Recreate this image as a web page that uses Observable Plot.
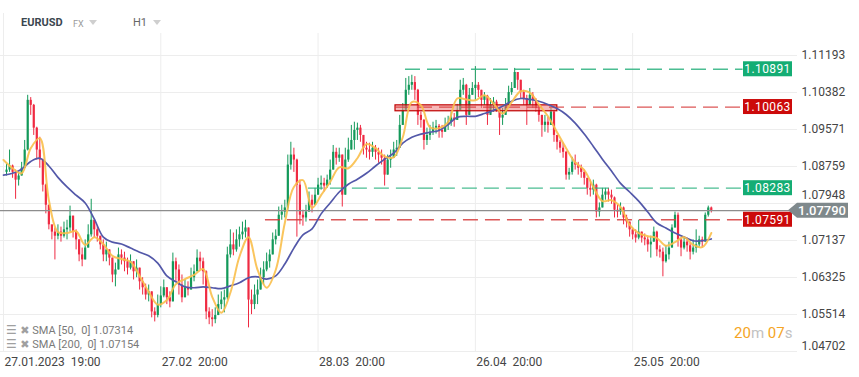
<!DOCTYPE html>
<html><head><meta charset="utf-8">
<script src="https://cdn.jsdelivr.net/npm/d3@7"></script>
<script src="https://cdn.jsdelivr.net/npm/@observablehq/plot@0.6"></script>
<style>
html,body{margin:0;padding:0;background:#fff;}
#wrap{position:relative;width:859px;height:377px;overflow:hidden;font-family:Roboto,"Open Sans",sans-serif;}
#wrap svg{position:absolute;left:0;top:0;}
.ov{position:absolute;white-space:pre;line-height:14px;}
.tri{position:absolute;width:0;height:0;border-left:4px solid transparent;border-right:4px solid transparent;border-top:5px solid #cfcfcf;}
</style></head><body>
<div id="wrap"></div>
<script>
// ---- data ----
const symbol = "EURUSD";
const market = "FX";
const interval = "H1";
const firstOpen = 1.0863;
const closes = [
1.0868,1.0877,1.0863,1.0846,1.0855,1.0872,1.0912,1.1021,1.1010,1.0960,
1.0912,1.0890,1.0835,1.0791,1.0748,1.0732,1.0723,1.0732,1.0723,1.0737,
1.0741,1.0767,1.0732,1.0715,1.0682,1.0671,1.0697,1.0726,1.0758,1.0737,
1.0723,1.0704,1.0682,1.0693,1.0675,1.0638,1.0649,1.0682,1.0675,1.0667,
1.0653,1.0667,1.0645,1.0653,1.0623,1.0610,1.0594,1.0601,1.0557,1.0549,
1.0573,1.0592,1.0610,1.0588,1.0579,1.0667,1.0649,1.0616,1.0588,1.0610,
1.0605,1.0632,1.0645,1.0675,1.0667,1.0645,1.0557,1.0544,1.0540,1.0549,
1.0573,1.0583,1.0588,1.0682,1.0704,1.0693,1.0715,1.0726,1.0732,1.0741,
1.0583,1.0573,1.0594,1.0605,1.0632,1.0649,1.0667,1.0682,1.0715,1.0723,
1.0769,1.0776,1.0785,1.0879,1.0901,1.0890,1.0835,1.0769,1.0763,1.0776,
1.0802,1.0791,1.0813,1.0835,1.0839,1.0833,1.0846,1.0868,1.0907,1.0894,
1.0901,1.0813,1.0890,1.0912,1.0933,1.0955,1.0960,1.0944,1.0916,1.0912,
1.0907,1.0916,1.0907,1.0901,1.0894,1.0857,1.0890,1.0894,1.0912,1.0916,
1.0966,1.0999,1.1043,1.1054,1.1060,1.1043,1.0988,1.0977,1.0933,1.0944,
1.0951,1.0960,1.0964,1.0955,1.0951,1.0966,1.0973,1.0982,1.0977,1.0999,
1.1043,1.1054,1.0988,1.1032,1.1047,1.1054,1.1043,1.1021,1.1030,1.0988,
1.1010,1.1017,1.1003,1.0982,1.0988,1.1010,1.1038,1.1047,1.1082,1.1065,
1.1038,1.1025,1.1010,1.1032,1.1021,1.1003,1.0988,1.0966,1.0973,1.0966,
1.0995,1.0944,1.0929,1.0916,1.0907,1.0857,1.0863,1.0885,1.0879,1.0872,
1.0863,1.0850,1.0828,1.0824,1.0835,1.0776,1.0785,1.0813,1.0820,1.0813,
1.0807,1.0780,1.0776,1.0785,1.0763,1.0754,1.0737,1.0726,1.0719,1.0732,
1.0719,1.0715,1.0704,1.0710,1.0732,1.0693,1.0688,1.0667,1.0682,1.0697,
1.0741,1.0769,1.0715,1.0697,1.0710,1.0702,1.0688,1.0697,1.0704,1.0715,
1.0710,1.0769,1.0785,1.0779];
const highs = [
1.0881,1.0912,1.0879,1.0868,1.0863,1.0885,1.0933,1.1032,1.1027,1.1012,
1.0962,1.0940,1.0892,1.0837,1.0791,1.0745,1.0741,1.0748,1.0743,1.0754,
1.0758,1.0789,1.0767,1.0737,1.0715,1.0697,1.0715,1.0748,1.0804,1.0758,
1.0745,1.0723,1.0715,1.0710,1.0693,1.0675,1.0664,1.0697,1.0693,1.0688,
1.0675,1.0682,1.0667,1.0671,1.0653,1.0632,1.0618,1.0616,1.0601,1.0566,
1.0594,1.0612,1.0627,1.0610,1.0601,1.0686,1.0675,1.0660,1.0638,1.0627,
1.0623,1.0653,1.0660,1.0693,1.0688,1.0675,1.0647,1.0566,1.0562,1.0566,
1.0594,1.0601,1.0605,1.0699,1.0737,1.0730,1.0737,1.0743,1.0754,1.0758,
1.0741,1.0605,1.0616,1.0627,1.0653,1.0667,1.0686,1.0693,1.0730,1.0737,
1.0787,1.0791,1.0802,1.0901,1.0929,1.0916,1.0892,1.0846,1.0780,1.0791,
1.0820,1.0813,1.0828,1.0850,1.0855,1.0850,1.0857,1.0890,1.0922,1.0916,
1.0916,1.0901,1.0916,1.0938,1.0966,1.0973,1.0971,1.0966,1.0944,1.0929,
1.0927,1.0929,1.0922,1.0916,1.0912,1.0901,1.0901,1.0912,1.0929,1.0933,
1.0988,1.1014,1.1069,1.1073,1.1076,1.1073,1.1045,1.0995,1.0979,1.0960,
1.0966,1.0973,1.0977,1.0968,1.0966,1.0982,1.0986,1.0995,1.0992,1.1012,
1.1065,1.1069,1.1056,1.1047,1.1060,1.1095,1.1060,1.1043,1.1038,1.1032,
1.1025,1.1027,1.1021,1.1003,1.1003,1.1025,1.1052,1.1060,1.1091,1.1082,
1.1065,1.1043,1.1032,1.1047,1.1038,1.1025,1.1010,1.0988,1.0988,1.0984,
1.1003,1.0997,1.0944,1.0933,1.0927,1.0909,1.0872,1.0896,1.0901,1.0885,
1.0879,1.0868,1.0850,1.0846,1.0846,1.0837,1.0796,1.0828,1.0828,1.0828,
1.0824,1.0809,1.0791,1.0796,1.0787,1.0769,1.0754,1.0741,1.0737,1.0758,
1.0732,1.0728,1.0721,1.0723,1.0743,1.0734,1.0702,1.0697,1.0702,1.0710,
1.0748,1.0776,1.0774,1.0719,1.0721,1.0719,1.0708,1.0715,1.0737,1.0723,
1.0721,1.0774,1.0789,1.0787];
const lows = [
1.0855,1.0863,1.0850,1.0804,1.0833,1.0855,1.0872,1.0910,1.0988,1.0944,
1.0890,1.0872,1.0820,1.0772,1.0737,1.0715,1.0671,1.0715,1.0710,1.0719,
1.0715,1.0732,1.0719,1.0693,1.0667,1.0656,1.0671,1.0697,1.0721,1.0719,
1.0710,1.0693,1.0667,1.0667,1.0658,1.0621,1.0612,1.0649,1.0660,1.0645,
1.0638,1.0649,1.0627,1.0632,1.0605,1.0594,1.0583,1.0579,1.0544,1.0535,
1.0544,1.0566,1.0588,1.0573,1.0566,1.0579,1.0623,1.0594,1.0577,1.0588,
1.0592,1.0605,1.0623,1.0645,1.0649,1.0616,1.0540,1.0529,1.0524,1.0531,
1.0549,1.0562,1.0555,1.0583,1.0675,1.0680,1.0688,1.0699,1.0715,1.0719,
1.0522,1.0551,1.0562,1.0573,1.0605,1.0616,1.0645,1.0653,1.0682,1.0704,
1.0723,1.0758,1.0763,1.0780,1.0868,1.0863,1.0721,1.0748,1.0745,1.0754,
1.0776,1.0774,1.0791,1.0813,1.0824,1.0820,1.0828,1.0835,1.0868,1.0879,
1.0885,1.0787,1.0813,1.0885,1.0912,1.0912,1.0933,1.0929,1.0901,1.0894,
1.0890,1.0896,1.0890,1.0883,1.0879,1.0833,1.0857,1.0872,1.0894,1.0898,
1.0916,1.0966,1.0999,1.1032,1.1043,1.1021,1.0966,1.0960,1.0912,1.0922,
1.0933,1.0944,1.0947,1.0938,1.0938,1.0951,1.0955,1.0964,1.0962,1.0977,
1.0999,1.1032,1.0966,1.0988,1.1032,1.1021,1.1027,1.1003,1.1010,1.0966,
1.0988,1.0995,1.0995,1.0944,1.0966,1.0988,1.1010,1.1032,1.1047,1.1043,
1.1025,1.1010,1.0966,1.1010,1.1003,1.0995,1.0973,1.0940,1.0951,1.0949,
1.0966,1.0929,1.0912,1.0905,1.0894,1.0846,1.0846,1.0857,1.0868,1.0857,
1.0850,1.0835,1.0813,1.0809,1.0813,1.0763,1.0765,1.0785,1.0802,1.0798,
1.0793,1.0763,1.0763,1.0769,1.0748,1.0741,1.0721,1.0715,1.0708,1.0715,
1.0708,1.0702,1.0688,1.0675,1.0710,1.0678,1.0675,1.0634,1.0664,1.0671,
1.0697,1.0741,1.0699,1.0678,1.0693,1.0688,1.0671,1.0682,1.0686,1.0699,
1.0697,1.0710,1.0765,1.0774];
// moving averages, one reading every 3 bars
const smaStep = 3;
const sma50 = [
1.0890,1.0872,1.0861,1.0916,1.0938,1.0802,1.0732,1.0730,1.0734,1.0704,
1.0721,1.0706,1.0680,1.0673,1.0667,1.0636,1.0601,1.0573,1.0583,1.0618,
1.0629,1.0638,1.0651,1.0590,1.0555,1.0599,1.0678,1.0721,1.0649,1.0610,
1.0649,1.0752,1.0831,1.0846,1.0785,1.0813,1.0842,1.0874,1.0872,1.0894,
1.0925,1.0916,1.0898,1.0896,1.0940,1.1017,1.1010,1.0962,1.0960,1.0973,
1.1025,1.1023,1.1021,1.1032,1.1014,1.0992,1.1017,1.1041,1.1038,1.1012,
1.0986,1.0951,1.0916,1.0885,1.0868,1.0831,1.0800,1.0802,1.0787,1.0748,
1.0730,1.0723,1.0719,1.0702,1.0710,1.0721,1.0704,1.0699,1.0730];
const sma200 = [
1.0857,1.0861,1.0870,1.0887,1.0894,1.0877,1.0852,1.0831,1.0813,1.0796,
1.0761,1.0721,1.0710,1.0706,1.0697,1.0688,1.0680,1.0664,1.0636,1.0623,
1.0612,1.0610,1.0612,1.0610,1.0608,1.0614,1.0621,1.0632,1.0634,1.0629,
1.0636,1.0662,1.0697,1.0726,1.0739,1.0772,1.0796,1.0820,1.0837,1.0848,
1.0861,1.0877,1.0892,1.0905,1.0927,1.0940,1.0947,1.0951,1.0955,1.0968,
1.0984,1.0986,1.0986,1.0992,1.0999,1.1008,1.1019,1.1025,1.1023,1.1019,
1.1012,1.1003,1.0990,1.0971,1.0947,1.0920,1.0892,1.0866,1.0839,1.0820,
1.0800,1.0776,1.0752,1.0741,1.0730,1.0721,1.0713,1.0713,1.0717];
const yTicks = [1.04702, 1.05514, 1.06325, 1.07137, 1.07948, 1.08759, 1.09571, 1.10382, 1.11193];
const xTickIdx = [0, 52, 104, 156, 208];
const xTickLabels = ["27.01.2023\u00a0\u00a019:00", "27.02\u00a0\u00a020:00", "28.03\u00a0\u00a020:00", "26.04\u00a0\u00a020:00", "25.05\u00a0\u00a020:00"];
const levelPrices = [1.10891, 1.10063, 1.08283, 1.07591];
const levelStarts = [132.9, 129.6, 100.8, 86.6];
const levelKinds = ["up", "down", "up", "down"];
const zoneBars = [129.6, 183.1];
const zonePrices = [1.0997, 1.1010];
const lastPrice = 1.07790;
const smaLegend = ["SMA [50,  0] 1.07314", "SMA [200,  0] 1.07154"];
const countdown = ["20", "m ", "07", "s"];

// ---- layout / style ----
const X_END = 262.5, LEVEL_END = 244.5;
const UP = "#13995a", DOWN = "#ef2a42";
const GREEN_TAG = "#14ad74", RED_TAG = "#cc0a0a";

const candles = closes.map((c, k) => ({i: k + 1, open: k ? closes[k - 1] : firstOpen, close: c, high: highs[k], low: lows[k]}));
const col = d => d.close >= d.open ? UP : DOWN;
const s50 = sma50.map((v, k) => ({i: k * smaStep, v}));
const s200 = sma200.map((v, k) => ({i: k * smaStep, v}));
const levels = levelPrices.map((p, k) => ({price: p, from: levelStarts[k], kind: levelKinds[k]}));
const zone = [{x1: zoneBars[0], x2: zoneBars[1], y1: zonePrices[0], y2: zonePrices[1]}];
const xt = xTickIdx.map((i, k) => ({i, label: xTickLabels[k]}));
// the label that sits right at the current-price tag is lifted above it
const nearTag = v => Math.abs(v - lastPrice) < 0.002;

const chart = Plot.plot({
  width: 859, height: 377,
  marginLeft: 3, marginRight: 62, marginTop: 55, marginBottom: 26,
  x: {domain: [0, X_END], axis: null},
  y: {domain: [yTicks[0], yTicks[yTicks.length - 1]], axis: null},
  style: {fontFamily: "Roboto, sans-serif", background: "transparent", overflow: "visible"},
  marks: [
    Plot.ruleY(yTicks, {stroke: "#ededed", insetLeft: -3}),
    Plot.ruleX(xTickIdx, {stroke: "#ededed", insetTop: -22}),
    Plot.ruleX(candles, {x: "i", y1: "low", y2: "high", stroke: col, strokeWidth: 1}),
    Plot.ruleX(candles, {x: "i", y1: "open", y2: "close", stroke: col, strokeWidth: 2.2}),
    Plot.rect(zone, {x1: "x1", x2: "x2", y1: "y1", y2: "y2", fill: "#ee7d7d", fillOpacity: 0.55, stroke: "#c00000", strokeWidth: 1.2}),
    Plot.ruleY(levels, {y: "price", x1: "from", x2: () => LEVEL_END, stroke: d => d.kind === "up" ? "#2bb27f" : "#d63a3a", strokeDasharray: "15,7", strokeWidth: 1.3, strokeOpacity: 0.85}),
    Plot.ruleY([lastPrice], {stroke: "#8d8d8d", strokeWidth: 1.2, insetLeft: -3}),
    Plot.line(s200, {x: "i", y: "v", stroke: "#5358a9", strokeWidth: 1.7, curve: "catmull-rom"}),
    Plot.line(s50, {x: "i", y: "v", stroke: "#f9bf4b", strokeWidth: 2, strokeOpacity: 0.9, curve: "catmull-rom"}),
    Plot.text(yTicks.slice(1).filter(v => !nearTag(v)), {x: () => X_END, y: d => d, text: d => d.toFixed(5), dx: 4, textAnchor: "start", fontSize: 12, fill: "#454545"}),
    Plot.text(yTicks.slice(1).filter(nearTag), {x: () => X_END, y: d => d, text: d => d.toFixed(5), dx: 4, dy: -8, textAnchor: "start", fontSize: 12, fill: "#454545"}),
    Plot.text(yTicks.slice(0, 1), {x: () => X_END, y: d => d, text: d => d.toFixed(5), dx: 4, dy: -5, textAnchor: "start", fontSize: 12, fill: "#454545"}),
    Plot.text(xt, {x: "i", y: () => yTicks[0], text: "label", dx: 1, dy: 11, textAnchor: "start", fontSize: 12, fill: "#454545"})
  ]
});

const wrap = document.getElementById("wrap");
wrap.appendChild(chart);

// price tags drawn with the plot's scales
const xs = chart.scale("x"), ys = chart.scale("y");
const svg = d3.select(chart);
const xR = xs.apply(X_END);
const g = svg.append("g");
levels.forEach(l => {
  const yc = ys.apply(l.price);
  g.append("rect").attr("x", xR - 54).attr("y", yc - 7.5).attr("width", 49).attr("height", 15)
    .attr("fill", l.kind === "up" ? GREEN_TAG : RED_TAG);
  g.append("text").attr("x", xR - 29.5).attr("y", yc).attr("dy", "0.36em").attr("text-anchor", "middle")
    .attr("fill", "#fff").attr("font-size", 12).attr("letter-spacing", 0.4).text(l.price.toFixed(5));
});
{
  const yc = ys.apply(lastPrice);
  g.append("path").attr("d", `M${xR - 9},${yc} L${xR},${yc - 7.5} L${xR + 51},${yc - 7.5} L${xR + 51},${yc + 7.5} L${xR},${yc + 7.5} Z`).attr("fill", "#7f898c");
  g.append("text").attr("x", xR + 25).attr("y", yc).attr("dy", "0.36em").attr("text-anchor", "middle")
    .attr("fill", "#fff").attr("font-size", 13).attr("font-weight", 500).text(lastPrice.toFixed(5));
}

// overlays: header, legend, countdown
function ov(html, css) { const d = document.createElement("div"); d.className = "ov"; d.style.cssText = css; d.innerHTML = html; wrap.appendChild(d); return d; }
ov("", "left:3px;top:13px;width:1px;height:20px;background:#ededed;");
ov(symbol, "left:21px;top:16px;font-size:11px;font-weight:700;color:#3b4750;");
ov(market, "left:73px;top:16.5px;font-size:9px;color:#9a9a9a;");
const t1 = document.createElement("div"); t1.className = "tri"; t1.style.cssText = "left:89px;top:20px;"; wrap.appendChild(t1);
ov(interval, "left:133px;top:16px;font-size:11px;color:#666;");
const t2 = document.createElement("div"); t2.className = "tri"; t2.style.cssText = "left:153px;top:20px;"; wrap.appendChild(t2);
smaLegend.forEach((s, k) => {
  ov(`<span style="font-size:12px;color:#a0a0a0;font-family:'DejaVu Sans'">\u2630</span><span style="font-size:11px;color:#a0a0a0;font-family:'DejaVu Sans'"> \u2716</span> ${s}`,
     `left:6px;top:${323 + k * 14}px;font-size:11px;color:#7a7a7a;`);
});
ov(`<span style="color:#f5a524">${countdown[0]}</span><span style="color:#c2c2c2">${countdown[1]}</span><span style="color:#f5a524">${countdown[2]}</span><span style="color:#c2c2c2">${countdown[3]}</span>`,
   "left:734px;top:324px;font-size:15px;line-height:18px;");
</script>
</body></html>
